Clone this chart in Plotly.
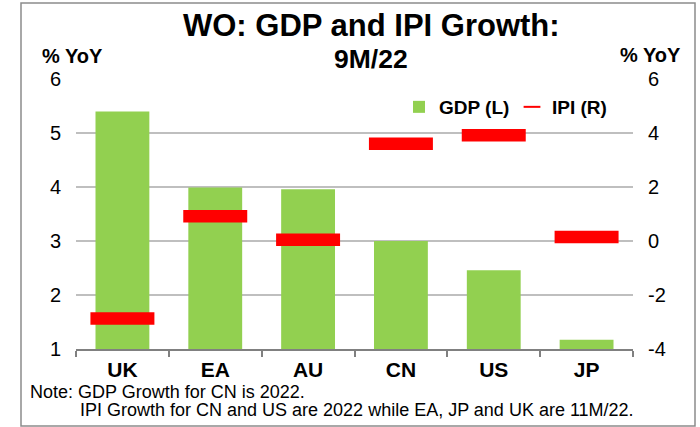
import plotly.graph_objects as go

categories = ["UK", "EA", "AU", "CN", "US", "JP"]
gdp_growth = [5.40, 3.99, 3.96, 3.00, 2.46, 1.17]
ipi_growth = [-2.87, 0.92, 0.05, 3.60, 3.92, 0.15]
left_ticks = [1, 2, 3, 4, 5, 6]
right_ticks = [-4, -2, 0, 2, 4, 6]
right_tick_text = ["-4", "-2", "0", "2", "4", "6"]

FONT = "Liberation Sans, Arial, sans-serif"
GREEN = "#92D050"
RED = "#FF0000"

fig = go.Figure()
fig.add_trace(go.Bar(
    x=categories, y=gdp_growth, name="GDP (L)",
    marker=dict(color=GREEN, line=dict(width=0)),
    width=0.58, yaxis="y",
))
fig.add_trace(go.Scatter(
    x=categories, y=ipi_growth, name="IPI (R)", mode="markers",
    marker=dict(symbol="line-ew", size=45.7, color=RED,
                line=dict(color=RED, width=12.5)),
    yaxis="y2",
))

# plot area: x 76..633 px, y 79..349 px
L, R, T, B = 76, 67, 79, 78
W, H = 700, 427
pw = W - L - R
ph = H - T - B

def px_x(x):
    return (x - L) / pw

def px_y(y):
    return (H - B - y) / ph

fig.update_layout(
    width=W, height=H,
    margin=dict(l=L, r=R, t=T, b=B, pad=0, autoexpand=False),
    paper_bgcolor="white", plot_bgcolor="white",
    font=dict(family=FONT, color="black", size=18),
    showlegend=True,
    legend=dict(
        orientation="h", x=px_x(399), y=px_y(107), xanchor="left", yanchor="middle",
        bgcolor="rgba(0,0,0,0)",
        font=dict(family=FONT, size=19, color="black", weight="bold"),
        itemsizing="constant", entrywidth=68, entrywidthmode="pixels",
        traceorder="normal",
    ),
    xaxis=dict(
        type="category", range=[-0.5, len(categories) - 0.5], autorange=False,
        showgrid=False, showline=True, linecolor="#808080", linewidth=1.5,
        ticks="outside", tickson="boundaries", ticklen=6, tickcolor="#808080", tickwidth=1.5,
        tickfont=dict(family=FONT, size=21, color="black", weight="bold"),
        ticklabelstandoff=1,
    ),
    yaxis=dict(
        range=[1, 6], tickvals=left_ticks, showgrid=True, gridcolor="#BFBFBF", gridwidth=1.5,
        zeroline=False, showline=False, ticks="", ticklabelstandoff=14,
        tickfont=dict(family=FONT, size=20, color="black"),
    ),
    yaxis2=dict(
        range=[-4, 6], tickvals=right_ticks, ticktext=right_tick_text,
        overlaying="y", side="right",
        showgrid=False, zeroline=False, showline=False, ticks="", ticklabelstandoff=14,
        tickfont=dict(family=FONT, size=20, color="black"),
    ),
)

annos = [
    dict(text="<b>WO: GDP and IPI Growth:</b>", x=371, y=25, size=31),
    dict(text="<b>9M/22</b>", x=371, y=59, size=26.5),
    dict(text="<b>% YoY</b>", x=72, y=56, size=20),
    dict(text="<b>% YoY</b>", x=650, y=55, size=20),
]
for a in annos:
    fig.add_annotation(
        text=a["text"], x=px_x(a["x"]), y=px_y(a["y"]), xref="paper", yref="paper",
        xanchor="center", yanchor="middle", showarrow=False,
        font=dict(family=FONT, size=a["size"], color="black"),
    )

notes = [
    ("Note: GDP Growth for CN is 2022.", 28, 392),
    ("IPI Growth for CN and US are 2022 while EA, JP and UK are 11M/22.", 78, 410),
]
for t, x, y in notes:
    fig.add_annotation(
        text=t, x=px_x(x), y=px_y(y), xref="paper", yref="paper",
        xanchor="left", yanchor="middle", showarrow=False,
        font=dict(family=FONT, size=18, color="black"),
    )

# outer frame
fig.add_shape(
    type="rect", xref="paper", yref="paper",
    x0=px_x(21), x1=px_x(695), y0=px_y(426), y1=px_y(3),
    line=dict(color="#8C8C8C", width=1.5), fillcolor="rgba(0,0,0,0)", layer="below",
)

fig.write_html(
    "out.html",
    config={"displayModeBar": False},
    post_script="document.body.style.margin='0';document.body.style.overflow='hidden';",
)
